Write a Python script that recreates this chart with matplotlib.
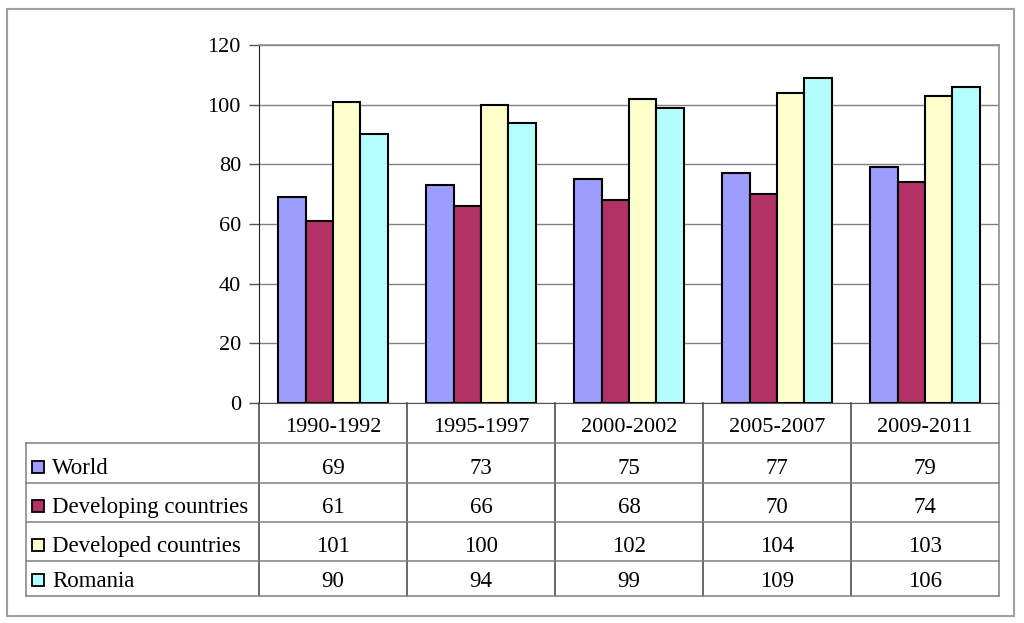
import matplotlib
matplotlib.use("Agg")
import matplotlib.pyplot as plt
from matplotlib.lines import Line2D
from matplotlib.patches import Rectangle
import matplotlib.transforms as mtransforms

categories = ["1990-1992", "1995-1997", "2000-2002", "2005-2007", "2009-2011"]
series_names = ["World", "Developing countries", "Developed countries", "Romania"]
world = [69, 73, 75, 77, 79]
developing = [61, 66, 68, 70, 74]
developed = [101, 100, 102, 104, 103]
romania = [90, 94, 99, 109, 106]
yticks = [0, 20, 40, 60, 80, 100, 120]

series = [world, developing, developed, romania]
colors = ["#9D9DFF", "#B23265", "#FFFFCC", "#B3FFFF"]

plt.rcParams['font.family'] = ['Liberation Serif', 'DejaVu Serif']
FS_TICK = 16
FS_HDR = 16
FS_LBL = 16.5

W, H = 1024, 623
fig = plt.figure(figsize=(W / 100, H / 100), dpi=100)

def fx(px):
    return px / W

def fy(py):
    return 1 - py / H

ax_l, ax_r, ax_t, ax_b = 259, 999, 45, 403
ax = fig.add_axes([fx(ax_l), fy(ax_b), fx(ax_r - ax_l), (ax_b - ax_t) / H])

n = len(series)
bw = 1 / (n + 1.4)
x = list(range(len(categories)))
for i, (vals, c) in enumerate(zip(series, colors)):
    pos = [xi + (i - (n - 1) / 2) * bw for xi in x]
    ax.bar(pos, vals, width=bw, color=c, edgecolor="black", linewidth=1.5, zorder=3)

ax.set_xlim(-0.5, len(categories) - 0.5)
ax.set_ylim(0, 120)
ax.set_yticks(yticks)
ax.set_yticklabels([str(t) for t in yticks], fontsize=FS_TICK)
ax.set_xticks([])
ax.yaxis.grid(True, color="#808080", linewidth=1.0, zorder=0)
ax.tick_params(axis="y", length=7, width=1, color="#555555", pad=6)
for s in ["top", "right"]:
    ax.spines[s].set_color("#909090")
    ax.spines[s].set_linewidth(1.2)
ax.spines["left"].set_color("#222222")
ax.spines["bottom"].set_color("#555555")

# Data table
blend = mtransforms.blended_transform_factory(ax.transData, fig.transFigure)
tbl_left = 26
row_lines = [443, 483, 522, 561, 596]
tbl_bottom = 596

for k in range(len(categories) + 1):
    xb = -0.5 + k
    fig.add_artist(Line2D([xb, xb], [fy(ax_b), fy(tbl_bottom)], transform=blend,
                          color="#404040" if k < len(categories) else "#808080", linewidth=1.1))
fig.add_artist(Line2D([fx(tbl_left), fx(tbl_left)], [fy(row_lines[0]), fy(tbl_bottom)],
                      transform=fig.transFigure, color="#808080", linewidth=1.1))
for r in row_lines:
    fig.add_artist(Line2D([fx(tbl_left), fx(ax_r)], [fy(r), fy(r)],
                          transform=fig.transFigure, color="#808080", linewidth=1.1))

hdr_base = row_lines[0] - 11
for xi, cat in zip(x, categories):
    fig.text(xi, fy(hdr_base), cat, transform=blend, ha="center", va="baseline", fontsize=FS_HDR)

for j, (name, vals, c) in enumerate(zip(series_names, series, colors)):
    base = row_lines[j + 1] - 9
    fig.add_artist(Rectangle((fx(32), fy(base - 1)), fx(12), 12 / H, transform=fig.transFigure,
                             facecolor=c, edgecolor="black", linewidth=1.3))
    fig.text(fx(52), fy(base), name, ha="left", va="baseline", fontsize=FS_LBL)
    for xi, v in zip(x, vals):
        fig.text(xi, fy(base), str(v), transform=blend, ha="center", va="baseline", fontsize=FS_LBL)

fig.add_artist(Rectangle((fx(7), fy(616)), fx(1014 - 7), (616 - 9) / H, transform=fig.transFigure,
                         facecolor="none", edgecolor="#A0A0A0", linewidth=1.5))

fig.savefig("out.png", dpi=100, facecolor="white")
